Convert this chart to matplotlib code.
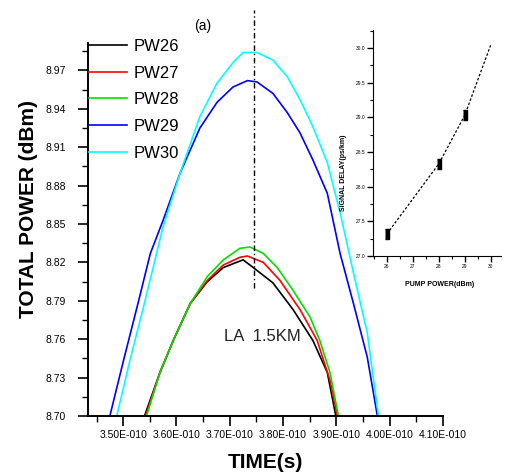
import numpy as np
import matplotlib
matplotlib.use('Agg')
import matplotlib.pyplot as plt
from matplotlib.ticker import MultipleLocator, FixedLocator, FuncFormatter

plt.rcParams['font.family'] = ['Liberation Sans', 'DejaVu Sans']

# time axis values are in units of 1E-010 s
t_pw26 = [3.540, 3.569, 3.594, 3.626, 3.658, 3.688, 3.725, 3.744, 3.781, 3.819, 3.856, 3.883, 3.899]
p_pw26 = [8.700, 8.734, 8.759, 8.788, 8.805, 8.816, 8.822, 8.816, 8.804, 8.783, 8.759, 8.734, 8.700]

t_pw27 = [3.542, 3.569, 3.594, 3.626, 3.658, 3.688, 3.719, 3.733, 3.763, 3.794, 3.832, 3.864, 3.888, 3.902]
p_pw27 = [8.700, 8.734, 8.759, 8.788, 8.806, 8.818, 8.824, 8.825, 8.820, 8.806, 8.783, 8.759, 8.728, 8.700]

t_pw28 = [3.544, 3.569, 3.594, 3.626, 3.658, 3.688, 3.719, 3.738, 3.763, 3.789, 3.819, 3.851, 3.869, 3.888, 3.904]
p_pw28 = [8.700, 8.734, 8.759, 8.788, 8.809, 8.822, 8.831, 8.832, 8.827, 8.816, 8.798, 8.777, 8.759, 8.734, 8.700]

t_pw29 = [3.475, 3.501, 3.526, 3.551, 3.575, 3.607, 3.644, 3.676, 3.706, 3.733, 3.751,
          3.781, 3.808, 3.832, 3.856, 3.883, 3.907, 3.932, 3.958, 3.977]
p_pw29 = [8.700, 8.744, 8.785, 8.827, 8.853, 8.890, 8.925, 8.945, 8.957, 8.962, 8.961,
          8.952, 8.937, 8.921, 8.900, 8.874, 8.827, 8.788, 8.746, 8.700]

t_pw30 = [3.488, 3.513, 3.538, 3.575, 3.607, 3.644, 3.676, 3.706, 3.725, 3.751,
          3.781, 3.808, 3.832, 3.856, 3.883, 3.907, 3.932, 3.958, 3.979]
p_pw30 = [8.700, 8.744, 8.785, 8.848, 8.890, 8.934, 8.960, 8.976, 8.984, 8.984,
          8.978, 8.965, 8.947, 8.926, 8.898, 8.859, 8.812, 8.765, 8.700]

# x tick positions (1E-010 s) and y tick positions (dBm)
time_ticks = [3.50, 3.60, 3.70, 3.80, 3.90, 4.00, 4.10]
power_ticks = [8.70, 8.73, 8.76, 8.79, 8.82, 8.85, 8.88, 8.91, 8.94, 8.97]

# dashed marker line at the peak
peak_time = 3.745
peak_line_y = [8.80, 9.017]

# inset: signal delay against pump power
pump_power = [26, 28, 29, 30]
signal_delay = [27.32, 28.33, 29.03, 30.04]
pump_ticks = [26, 27, 28, 29, 30]
delay_ticks = [27.0, 27.5, 28.0, 28.5, 29.0, 29.5, 30.0]

series = [
    ('PW26', t_pw26, p_pw26, 'black'),
    ('PW27', t_pw27, p_pw27, 'red'),
    ('PW28', t_pw28, p_pw28, '#00e000'),
    ('PW29', t_pw29, p_pw29, 'blue'),
    ('PW30', t_pw30, p_pw30, 'cyan'),
]

fig = plt.figure(figsize=(5.05, 4.74), dpi=100)
ax = fig.add_axes([88 / 505, 58 / 474, 355 / 505, 373 / 474])

for name, t, p, col in series:
    ax.plot(np.array(t) * 1e-10, p, color=col, lw=1.2, label=name)

ax.plot([peak_time * 1e-10] * 2, peak_line_y, color='black', lw=1.0,
        linestyle=(0, (4, 2, 1, 2)), clip_on=False)

ax.set_xlim(3.434e-10, 4.1001e-10)
ax.set_ylim(8.70, 8.9914)
ax.xaxis.set_major_locator(FixedLocator([v * 1e-10 for v in time_ticks]))
ax.xaxis.set_minor_locator(FixedLocator([(v - 0.05) * 1e-10 for v in time_ticks]))
ax.yaxis.set_major_locator(FixedLocator(power_ticks))
ax.yaxis.set_minor_locator(MultipleLocator(0.015))
ax.xaxis.set_major_formatter(FuncFormatter(lambda v, pos: '%.2fE-010' % (v / 1e-10)))
ax.yaxis.set_major_formatter(FuncFormatter(lambda v, pos: '%.2f' % v))

for s in ['top', 'right']:
    ax.spines[s].set_visible(False)
ax.spines['left'].set_linewidth(1.4)
ax.spines['bottom'].set_linewidth(1.4)
ax.tick_params(which='major', direction='out', length=7, width=1.2, labelsize=7.5, pad=3)
ax.tick_params(which='minor', direction='out', length=4, width=1.0)
ax.tick_params(axis='y', pad=9)

ax.set_ylabel('TOTAL POWER (dBm)', fontsize=15, fontweight='bold')
ax.yaxis.set_label_coords(-0.141, 0.555)
ax.set_xlabel('TIME(s)', fontsize=15, fontweight='bold')
ax.xaxis.set_label_coords(0.5, -0.10)

ax.text(3.761e-10, 8.762, 'LA  1.5KM', fontsize=12, color='#222222', ha='center', va='center')
ax.text(0.324, 1.046, '(a)', transform=ax.transAxes, fontsize=10, ha='center', va='center')

ax.legend(loc='upper left', bbox_to_anchor=(89 / 505, 1 - 39 / 474), bbox_transform=fig.transFigure,
          frameon=False, fontsize=12, handlelength=2.3, handletextpad=0.4,
          labelspacing=0.7, borderpad=0, borderaxespad=0)

# inset plot
ins = fig.add_axes([373 / 505, 218 / 474, 128 / 505, 226 / 474])
ins.patch.set_alpha(0)
ins.plot(pump_power, signal_delay, color='black', lw=0.9, linestyle=(0, (2, 1.5)),
         marker=[(-0.5, -1), (0.5, -1), (0.5, 1), (-0.5, 1)], markersize=7,
         markevery=[0, 1, 2])
ins.set_xlim(25.46, 30.4)
ins.set_ylim(27.0, 30.26)
ins.xaxis.set_major_locator(FixedLocator(pump_ticks))
ins.xaxis.set_minor_locator(MultipleLocator(0.5))
ins.yaxis.set_major_locator(FixedLocator(delay_ticks))
ins.yaxis.set_minor_locator(MultipleLocator(0.25))
ins.yaxis.set_major_formatter(FuncFormatter(lambda v, pos: '%.1f' % v))
for s in ['top', 'right']:
    ins.spines[s].set_visible(False)
ins.tick_params(which='major', direction='out', length=4, width=1.0, labelsize=3.5, pad=1.5)
ins.tick_params(which='minor', direction='out', length=2, width=0.8)
ins.set_xlabel('PUMP POWER(dBm)', fontsize=5, fontweight='bold')
ins.xaxis.set_label_coords(0.52, -0.11)
ins.set_ylabel('SIGNAL DELAY(ps/km)', fontsize=5, fontweight='bold')
ins.yaxis.set_label_coords(-0.2, 0.37)

plt.savefig('out.png', dpi=100)
